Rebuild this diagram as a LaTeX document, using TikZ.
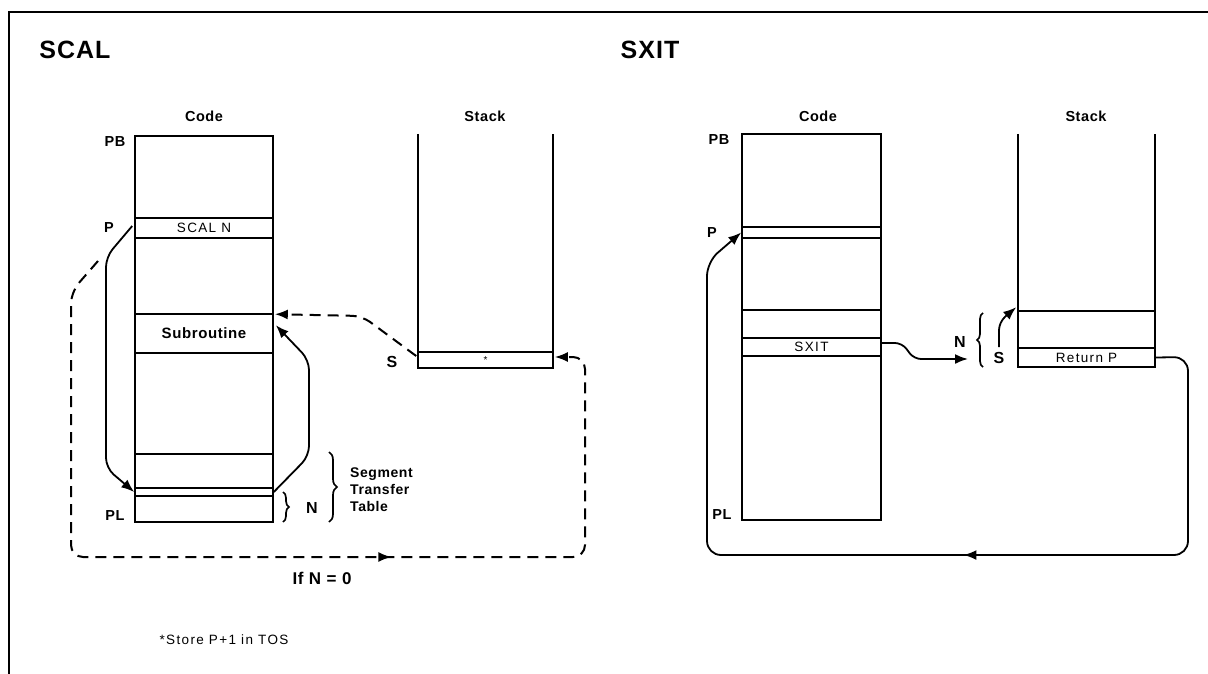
\documentclass[tikz,border=0pt]{standalone}
\usepackage{fontspec}
\setmainfont{Liberation Sans}[LetterSpace=4]
\newfontfamily\widefont{Liberation Sans}[LetterSpace=10]
\usetikzlibrary{arrows.meta,decorations.pathreplacing,decorations.markings,calc}
\begin{document}
\begin{tikzpicture}[x=1pt,y=-1pt,
  lbl/.style={font=\fontsize{14.5}{16}\selectfont\bfseries, inner sep=0pt},
  ttl/.style={font=\fontsize{25}{28}\selectfont\bfseries, inner sep=0pt},
  rowbox/.style={draw, line width=1.6pt, inner sep=0pt, minimum width=#1},
  outerbox/.style={draw, line width=2.4pt, inner sep=0pt},
  conn/.style={line width=1.8pt, -{Latex[length=13pt,width=10pt]}},
  dconn/.style={line width=2pt, dash pattern=on 11pt off 7pt, -{Latex[length=13pt,width=10pt]}},
  arrmid/.style={decoration={markings, mark=at position #1 with {\arrow{Latex[length=13pt,width=10pt]}}}, postaction={decorate}},
  brc/.style={decorate, decoration={brace, amplitude=#1}, line width=1.7pt},
  rowtxt/.style={font=\widefont\fontsize{13.5}{14}\selectfont},
]
\useasboundingbox (0,0) rectangle (1208,674);
% frame
\draw[line width=1.6pt] (9,674) -- (9,12) -- (1208,12);

% titles
\node[ttl] (tSCAL) at (75,50) {SCAL};
\node[ttl] (tSXIT) at (650,50) {SXIT};

% ================= SCAL =================
\node[lbl] (lCode) at (204,116) {Code};
\node[lbl] (lStack) at (485,116) {Stack};

\node[rowbox=138pt, minimum height=20pt, rowtxt] (lscal) at (204,228) {SCAL N};
\node[rowbox=138pt, minimum height=39pt, font=\fontsize{15}{17}\selectfont\bfseries] (lsub) at (204,333.5) {Subroutine};
\node[rowbox=138pt, minimum height=34pt] (lst1) at (204,471) {};
\node[rowbox=138pt, minimum height=8pt] (lnar) at (204,492) {};
\node[rowbox=138pt, minimum height=26pt] (lbot) at (204,509) {};
\node[outerbox, minimum width=138pt, minimum height=386pt] (lcode) at (204,329) {};

\node[lbl] (lPB) at (115,142) {PB};
\node[lbl] (lP) at (109,228) {P};
\node[lbl] (lPL) at (115,516) {PL};

% stack (open top)
\draw[line width=2.4pt] (418,134) -- (418,368) -- (553,368) -- (553,134);
\node[rowbox=135pt, minimum height=16pt, font=\fontsize{10}{10}\selectfont] (ls) at (485.5,360) {*};
\node[lbl, font=\fontsize{16}{17}\selectfont\bfseries] (lS) at (392,362) {S};

% braces and labels
\draw[brc=6pt] (283,492) -- (283,522);
\node[lbl, font=\fontsize{16}{17}\selectfont\bfseries] (lN) at (312,508) {N};
\draw[brc=8pt] (329,452) -- (329,522);
\node[lbl, align=left, anchor=west, font=\fontsize{14}{17}\selectfont\bfseries] (lSTT) at (350,490) {Segment\\Transfer\\Table};

% connectors
\draw[conn, rounded corners=10pt] ([shift={(-2,-2)}]lscal.west) -- (106,257) -- (106,468) -- (lnar.west);
\draw[conn, rounded corners=10pt] (lnar.east) -- (309,456) -- (309,360) -- ([shift={(2,12)}]lsub.north east);
\draw[dconn, rounded corners=10pt] ([shift={(-1,-4)}]ls.west) -- (362,316) -- ([shift={(1,1)}]lsub.north east);
\coordinate (dstart) at (98,261);
\draw[dconn, rounded corners=12pt, arrmid=0.6] (dstart) -- (71,292) -- (71,557) -- (585,557) -- (585,357) -- ([shift={(1,-3)}]ls.east);
\node[lbl, font=\fontsize{17}{18}\selectfont\bfseries] (lIf) at (322,578) {If N = 0};

\node[inner sep=0pt, font=\widefont\fontsize{13.5}{15}\selectfont] (lnote) at (224,640) {*Store P+1 in TOS};

% ================= SXIT =================
\node[lbl] (rCode) at (818,116) {Code};
\node[lbl] (rStack) at (1086,116) {Stack};

\node[rowbox=139pt, minimum height=11pt] (rp) at (811.5,232.5) {};
\node[rowbox=139pt, minimum height=28pt] (rr1) at (811.5,324) {};
\node[rowbox=139pt, minimum height=18pt, rowtxt] (rsx) at (811.5,347) {SXIT};
\node[outerbox, minimum width=139pt, minimum height=386pt] (rcode) at (811.5,327) {};

\node[lbl] (rPB) at (719,140) {PB};
\node[lbl] (rP) at (712,233) {P};
\node[lbl] (rPL) at (722,515) {PL};

\draw[line width=2.4pt] (1018,134) -- (1018,367) -- (1155,367) -- (1155,134);
\node[rowbox=137pt, minimum height=37pt] (rs1) at (1086.5,329.5) {};
\node[rowbox=137pt, minimum height=19pt, rowtxt] (rret) at (1086.5,357.5) {Return P};

\draw[brc=6pt] (983,367) -- (983,313);
\node[lbl, font=\fontsize{16}{17}\selectfont\bfseries] (rN) at (960,342) {N};
\node[lbl, font=\fontsize{16}{17}\selectfont\bfseries] (rS) at (999,358) {S};

\coordinate (rNtip) at (968,359);
\draw[conn, rounded corners=7pt] ([shift={(0,-4)}]rsx.east) -- (902,343) -- (914,359) -- (rNtip);
\draw[conn, rounded corners=8pt] ([shift={(0,-5)}]rS.north) -- (999,322) -- ([shift={(-1,-3)}]rs1.north west);
\draw[conn, rounded corners=14pt, arrmid=0.43] (rret.east) -- (1188,357) -- (1188,555) -- (707,555) -- (707,262) -- (rp.west);
\end{tikzpicture}
\end{document}
